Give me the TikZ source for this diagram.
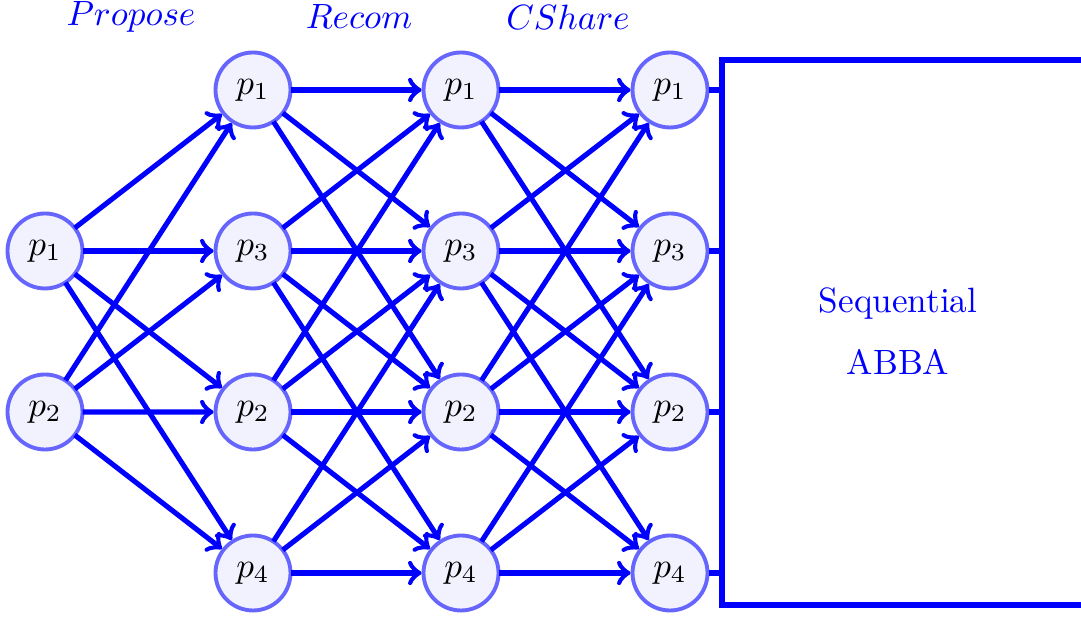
\documentclass[tikz,border=0pt]{standalone}
\usetikzlibrary{arrows}
\begin{document}
\begin{tikzpicture}[>=to,very thick,font=\normalsize,
	proc/.style={circle,draw=blue!60,fill=blue!5,line width=1.1pt,minimum size=0.75cm,inner sep=0pt},
	link/.style={->,draw=blue,line width=1.45pt,shorten <=-0.5pt}]
				\useasboundingbox (0,0) rectangle (10.81,6.19);
				% stage labels
				\node[blue] (lprop) at (1.31,6.02) {$Propose$};
				\node[blue] (lrec) at (3.59,6.02) {$Recom$};
				\node[blue] (lcsh) at (5.68,6.02) {$CShare$};
				% processes
				\node[proc] (a1) at (0.45,3.68) {$p_1$};
				\node[proc] (a2) at (0.45,2.07) {$p_2$};
				\foreach \c/\x in {b/2.53,c/4.61,d/6.70}
					\foreach \r/\lab in {0/1,1/3,2/2,3/4}
						\node[proc] (\c\r) at (\x,5.29-1.61*\r) {$p_{\lab}$};
				% messages
				\foreach \s in {a1,a2}
					\foreach \t in {0,...,3}
						\draw[link] (\s) -- (b\t);
				\foreach \s/\t in {b/c,c/d}
					\foreach \i in {0,...,3}
						\foreach \j in {0,...,3}
							{\pgfmathtruncatemacro{\gap}{abs(\i-\j)}
							\ifnum\gap<3 \draw[link] (\s\i) -- (\t\j); \fi}
				% sequential ABBA
				\coordinate (seqnw) at (7.22,5.59);
				\coordinate (seqsw) at (7.22,0.14);
				\draw[blue,line width=1.7pt] (10.81,5.59) -- (seqnw) -- (seqsw) -- (10.81,0.14);
				\foreach \r in {0,...,3}
					\draw[blue,line width=1.45pt] (d\r) -- (d\r -| seqnw);
				\node[blue,align=center] (seq) at (8.98,2.88) {Sequential\\[0.2cm] ABBA};
			\end{tikzpicture}
\end{document}
